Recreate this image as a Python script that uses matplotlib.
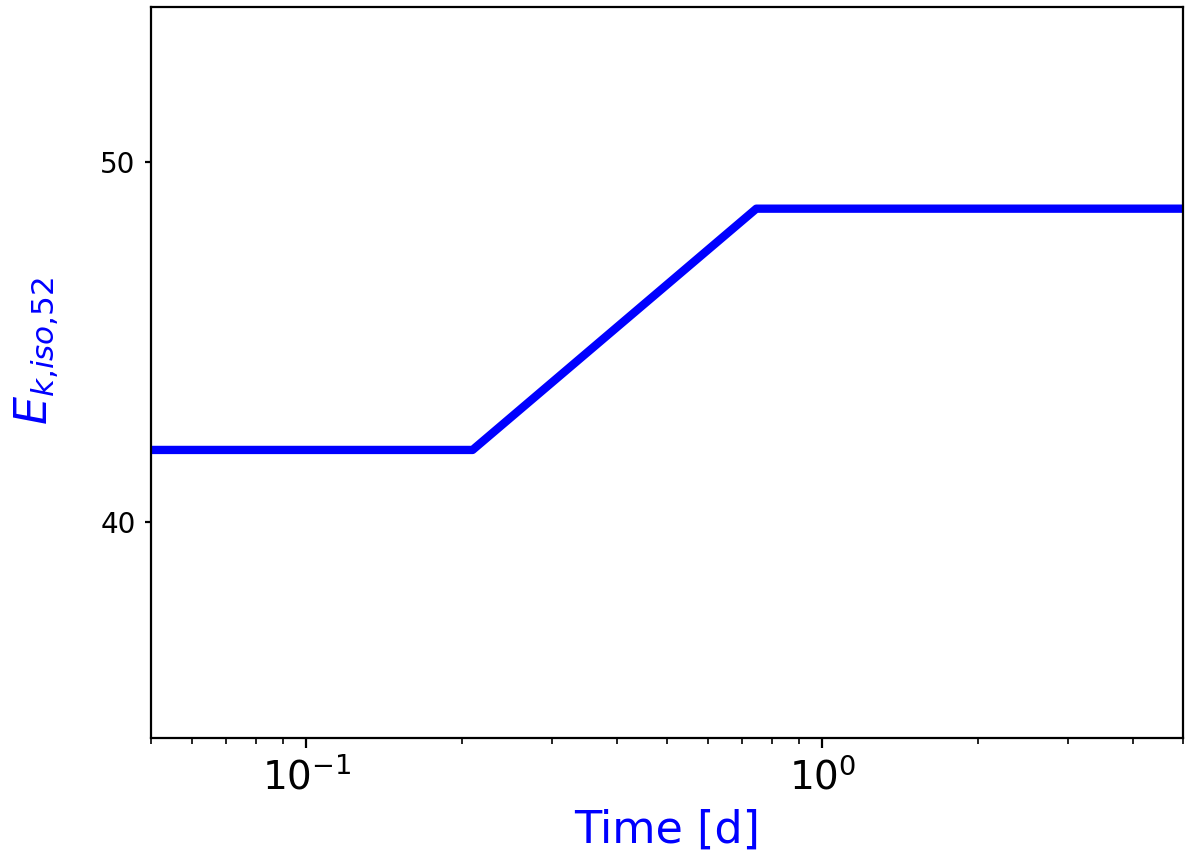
import matplotlib
matplotlib.use("Agg")
import matplotlib.pyplot as plt

# energy history
time_d = [0.05, 0.21, 0.745, 5.0]
e_kiso52 = [42.0, 42.0, 48.7, 48.7]

fig = plt.figure(figsize=(6.0, 4.275), dpi=200)
ax = fig.add_axes([0.1258, 0.1368, 0.86, 0.855])

ax.plot(time_d, e_kiso52, color='blue', lw=3)
ax.set_xscale('log')
ax.set_xlim(0.05, 5.0)
ax.set_ylim(34.0, 54.3)
ax.set_yticks([40, 50])

ax.tick_params(axis='x', labelsize=14)
ax.tick_params(axis='y', labelsize=10, length=2)

ax.set_xlabel('Time [d]', color='blue', fontsize=16)
ax.set_ylabel(r'$E_{k{,}iso{,}52}$', color='blue', fontsize=16)
ax.yaxis.set_label_coords(-0.087, 0.53)

fig.savefig('out.png', dpi=200)
